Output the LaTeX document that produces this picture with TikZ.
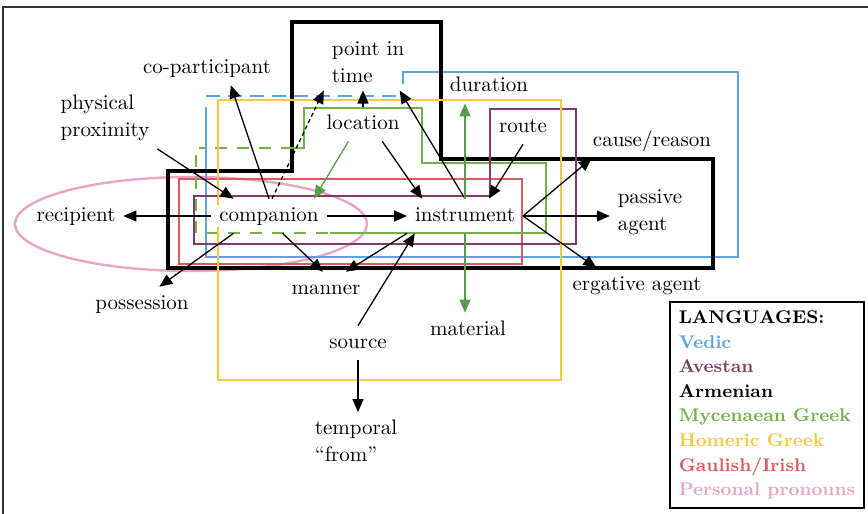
\documentclass[tikz,border=0pt]{standalone}
\usepackage{xcolor}
\usepackage{tikz}
\usetikzlibrary{arrows.meta}
\definecolor{vedic}{RGB}{91,164,224}
\definecolor{avestan}{RGB}{125,60,108}
\definecolor{mycen}{RGB}{114,176,72}
\definecolor{homeric}{RGB}{248,200,64}
\definecolor{gaulish}{RGB}{218,90,92}
\definecolor{pronoun}{RGB}{232,164,200}
\definecolor{arrgreen}{RGB}{84,158,72}
\tikzset{>={Triangle[length=6.5pt,width=5.5pt]}}
\tikzset{
  region/.style={line width=1.4pt},
  lbl/.style={fill=white, inner sep=1pt, outer sep=3pt, text height=7.3pt, text depth=2pt,
    font=\fontsize{10.5}{13.5}\selectfont},
  lbltwo/.style={inner sep=1pt, outer sep=3pt, align=left,
    font=\fontsize{10.5}{13.5}\selectfont},
  link/.style={->, line width=0.65pt},
  glink/.style={->, line width=0.65pt, arrgreen},
}

\begin{document}
\begin{tikzpicture}[x=0.5pt, y=-0.5pt]

                \useasboundingbox (0,0) rectangle (868,514);
                \draw[line width=0.9pt, black!80] (3,514) -- (3,7) -- (868,7);

                % Personal pronouns
                \draw[region, pronoun, line width=1.2pt] (191,224) ellipse (88pt and 23.5pt);

                % Vedic
                \draw[region, vedic] (403,84) -- (403,72) -- (738,72) -- (738,257) -- (206,257) -- (206,107);
                \draw[region, vedic, dash pattern=on 7pt off 4pt] (206,96) -- (403,96);

                % Gaulish/Irish
                \draw[region, gaulish] (179,179) rectangle (522,264);

                % Armenian
                \draw[region, line width=1.7pt] (292,22) -- (441,22) -- (441,159) -- (713,159) -- (713,268)
                    -- (168,268) -- (168,171) -- (292,171) -- cycle;

                % Mycenaean Greek
                \draw[region, mycen] (330,233) -- (546,233) -- (546,163) -- (422,163) -- (422,108)
                    -- (304,108) -- (304,148) -- (293,148);
                \draw[region, mycen, dash pattern=on 6pt off 5pt] (293,148) -- (199,148);
                \draw[region, mycen, dash pattern=on 6pt off 5pt] (196,155) -- (196,233) -- (330,233);

                % Avestan
                \draw[region, avestan] (194,196) -- (490,196) -- (490,109) -- (576,109) -- (576,244)
                    -- (194,244) -- cycle;

                % Homeric Greek
                \draw[region, homeric] (218,100) rectangle (561,380);

                % Functions
                \node[lbltwo] (pit) at (368,62) {point in\\time};
                \node[lbl] (copart) at (207,68) {co-participant};
                \node[lbltwo] (phys) at (105,118) {physical\\proximity};
                \node[lbl] (dur) at (489,86) {duration};
                \node[lbl] (loc) at (363,124) {location};
                \node[lbl] (route) at (523,127) {route};
                \node[lbl] (cause) at (652,141) {cause/reason};
                \node[lbl] (recip) at (76,216) {recipient};
                \node[lbl] (comp) at (269,216) {companion};
                \node[lbl] (instr) at (465,216) {instrument};
                \node[lbltwo] (pass) at (650,212) {passive\\agent};
                \node[lbl] (erg) at (637,285) {ergative agent};
                \node[lbl] (poss) at (142,304) {possession};
                \node[lbl] (manner) at (326,289) {manner};
                \node[lbl] (mat) at (468,330) {material};
                \node[lbl] (source) at (358,343) {source};
                \node[lbltwo] (temp) at (356,441) {temporal\\``from''};

                % Legend
                \node[draw, line width=0.9pt, align=left, inner sep=4.4pt,
                    font=\fontsize{9.2}{12.3}\selectfont\bfseries] (legend) at (767,405)
                    {LANGUAGES:\\ \textcolor{vedic}{Vedic}\\ \textcolor{avestan}{Avestan}\\ Armenian\\
                     \textcolor{mycen}{Mycenaean Greek}\\ \textcolor{homeric}{Homeric Greek}\\
                     \textcolor{gaulish}{Gaulish/Irish}\\ \textcolor{pronoun}{Personal pronouns}};

                % Arrows
                \draw[link] (comp.west) -- (recip.east);
                \draw[link] (comp.east) -- (instr.west);
                \draw[link] (phys.south east) -- (comp.154);
                \draw[link] (comp.north) -- (copart.-36);
                \draw[link, dash pattern=on 2pt off 1.5pt] (comp.80) -- (pit.south west);
                \draw[link] (loc.north) -- (loc.north |- pit.south);
                \draw[link] (instr.north) -- (pit.-42);
                \draw[glink] (loc.-130) -- (comp.21);
                \draw[link] (loc.-42) -- (instr.158);
                \draw[link] (route.south) -- (instr.36);
                \draw[glink] (instr.north) -- (instr.north |- dur.south);
                \draw[glink] (instr.south) -- (instr.south |- mat.north);
                \draw[link] (instr.east) -- (cause.-164);
                \draw[link] (instr.east) -- (instr.east -| pass.west);
                \draw[link] (instr.east) -- (erg.157);
                \draw[link] (comp.-52) -- (manner.100);
                \draw[link] (instr.south west) -- (manner.41);
                \draw[link] (source.north) -- (instr.-161);
                \draw[link] (comp.-154) -- (poss.45);
                \draw[link] (source.south) -- (source.south |- temp.north);

            \end{tikzpicture}
\end{document}
